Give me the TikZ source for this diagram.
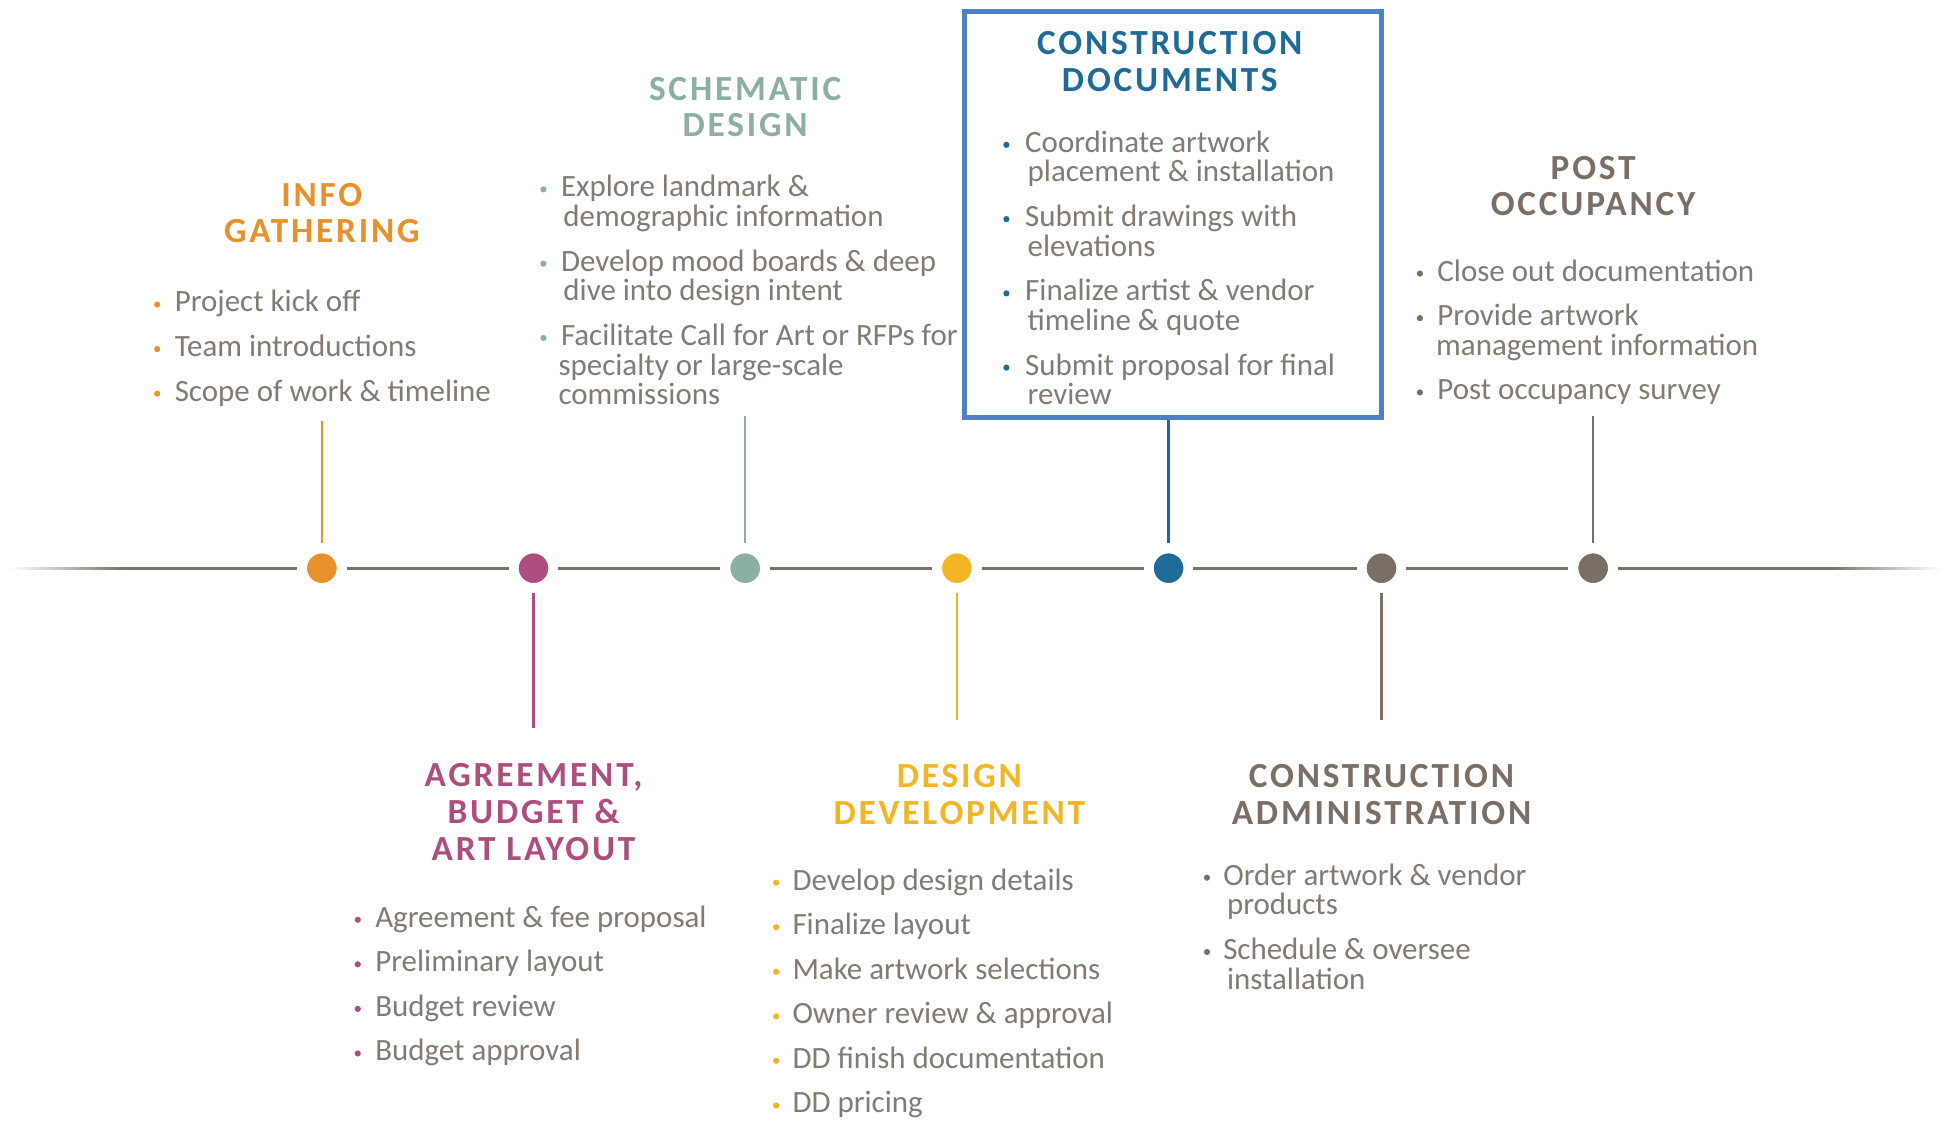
\documentclass[tikz,border=0pt]{standalone}
\usepackage{fontspec}
\setmainfont{Carlito}
\newfontfamily\headfont[LetterSpace=8]{Carlito}
\definecolor{cOr}{HTML}{E8912A}
\definecolor{cMg}{HTML}{AE4E7E}
\definecolor{cSg}{HTML}{8BAFA0}
\definecolor{cYe}{HTML}{F2B524}
\definecolor{cBl}{HTML}{1F6B98}
\definecolor{cGr}{HTML}{7A6E65}
\definecolor{cTx}{HTML}{837A73}
\definecolor{cBox}{HTML}{4F7FC4}
\definecolor{cLine}{HTML}{7A7068}
\tikzset{
  dotn/.style={circle, fill=#1, draw=white, line width=1pt, minimum size=25pt, inner sep=0pt},
  tl/.style={draw=cLine, line width=2.5pt},
  stem/.style={draw=#1, line width=2pt},
  txt/.style={anchor=base west, inner sep=0pt, text=cTx, font=\fontsize{25}{24}\selectfont},
  hd/.style={anchor=base, inner sep=0pt, text=#1, font=\headfont\bfseries\fontsize{28.5}{30}\selectfont},
  bul/.style={circle, fill=#1, inner sep=0pt, minimum size=5pt},
}
\begin{document}
\begin{tikzpicture}[x=1pt,y=-1pt]
\useasboundingbox[fill=white] (0,0) rectangle (1568,906);
% timeline dots
\node[dotn=cOr] (d1) at (260,459) {};
\node[dotn=cMg] (d2) at (431,459) {};
\node[dotn=cSg] (d3) at (602,459) {};
\node[dotn=cYe] (d4) at (773,459) {};
\node[dotn=cBl] (d5) at (944,459) {};
\node[dotn=cGr] (d6) at (1116,459) {};
\node[dotn=cGr] (d7) at (1287,459) {};
\coordinate (ls) at (100,459);
\coordinate (re) at (1480,459);
% faded ends
\foreach \i [evaluate=\i as \pc using {(\i+0.5)*100/23}, evaluate=\i as \xa using {8+4*\i}] in {0,...,22}
  {\draw[draw=cLine!\pc!white, line width=2.5pt] (\xa,459) -- ++(4.6,0);}
\foreach \i [evaluate=\i as \pc using {100-(\i+0.5)*100/22}, evaluate=\i as \xa using {1479.6+4*\i}] in {0,...,21}
  {\draw[draw=cLine!\pc!white, line width=2.5pt] (\xa,459) -- ++(4.6,0);}
\draw[tl, shorten >=7pt] (ls) -- (d1);
\draw[tl, shorten <=7pt, shorten >=7pt] (d1) -- (d2);
\draw[tl, shorten <=7pt, shorten >=7pt] (d2) -- (d3);
\draw[tl, shorten <=7pt, shorten >=7pt] (d3) -- (d4);
\draw[tl, shorten <=7pt, shorten >=7pt] (d4) -- (d5);
\draw[tl, shorten <=7pt, shorten >=7pt] (d5) -- (d6);
\draw[tl, shorten <=7pt, shorten >=7pt] (d6) -- (d7);
\draw[tl, shorten <=7pt] (d7) -- (re);
% stems
\coordinate (s1) at (260,340);
\coordinate (s2) at (431,588);
\coordinate (s3) at (602,336);
\coordinate (s4) at (773,582);
\coordinate (s6) at (1116,582);
\coordinate (s7) at (1287,336);
\draw[stem=cOr, shorten >=7pt] (s1) -- (d1);
\draw[stem=cMg, shorten >=7pt] (s2) -- (d2);
\draw[stem=cSg, shorten >=7pt] (s3) -- (d3);
\draw[stem=cYe, shorten >=7pt] (s4) -- (d4);
\draw[stem=cGr, shorten >=7pt] (s6) -- (d6);
\draw[stem=cGr, shorten >=7pt] (s7) -- (d7);
% construction documents box
\node[draw=cBox, line width=4pt, minimum width=337pt, minimum height=328pt, inner sep=0pt] (cdbox) at (947.5,173) {};
\draw[stem=cBl, shorten >=7pt] (cdbox.south -| d5) -- (d5);

% INFO GATHERING
\node[hd=cOr] (h1a) at (260,167) {INFO};
\node[hd=cOr] (h1b) at (260,196) {GATHERING};
\node[bul=cOr] (b1a) at (127,246) {};
\node[txt] (t1a) at (141,252) {Project kick off};
\node[bul=cOr] (b1b) at (127,282) {};
\node[txt] (t1b) at (141,288) {Team introductions};
\node[bul=cOr] (b1c) at (127,318) {};
\node[txt] (t1c) at (141,324) {Scope of work \& timeline};

% SCHEMATIC DESIGN
\node[hd=cSg] (h3a) at (602,81) {SCHEMATIC};
\node[hd=cSg] (h3b) at (602,110) {DESIGN};
\node[bul=cSg] (b3a) at (439,153) {};
\node[txt] (t3a) at (453,159) {Explore landmark \&};
\node[txt] (t3a2) at (455,183) {demographic information};
\node[bul=cSg] (b3b) at (439,213) {};
\node[txt] (t3b) at (453,219) {Develop mood boards \& deep};
\node[txt] (t3b2) at (455,243) {dive into design intent};
\node[bul=cSg] (b3c) at (439,273) {};
\node[txt] (t3c) at (453,279) {Facilitate Call for Art or RFPs for};
\node[txt] (t3c2) at (451,303) {specialty or large-scale};
\node[txt] (t3c3) at (451,327) {commissions};

% CONSTRUCTION DOCUMENTS
\node[hd=cBl] (h5a) at (945,44) {CONSTRUCTION};
\node[hd=cBl] (h5b) at (945,74) {DOCUMENTS};
\node[bul=cBl] (b5a) at (813,117) {};
\node[txt] (t5a) at (828,123) {Coordinate artwork};
\node[txt] (t5a2) at (830,147) {placement \& installation};
\node[bul=cBl] (b5b) at (813,177) {};
\node[txt] (t5b) at (828,183) {Submit drawings with};
\node[txt] (t5b2) at (830,207) {elevations};
\node[bul=cBl] (b5c) at (813,237) {};
\node[txt] (t5c) at (828,243) {Finalize artist \& vendor};
\node[txt] (t5c2) at (830,267) {timeline \& quote};
\node[bul=cBl] (b5d) at (813,297) {};
\node[txt] (t5d) at (828,303) {Submit proposal for final};
\node[txt] (t5d2) at (830,327) {review};

% POST OCCUPANCY
\node[hd=cGr] (h7a) at (1287,145) {POST};
\node[hd=cGr] (h7b) at (1287,174) {OCCUPANCY};
\node[bul=cGr] (b7a) at (1147,221) {};
\node[txt] (t7a) at (1161,227) {Close out documentation};
\node[bul=cGr] (b7b) at (1147,257) {};
\node[txt] (t7b) at (1161,263) {Provide artwork};
\node[txt] (t7b2) at (1160,287) {management information};
\node[bul=cGr] (b7c) at (1147,317) {};
\node[txt] (t7c) at (1161,323) {Post occupancy survey};

% AGREEMENT
\node[hd=cMg] (h2a) at (431,635) {AGREEMENT,};
\node[hd=cMg] (h2b) at (431,665) {BUDGET \&};
\node[hd=cMg] (h2c) at (431,695) {ART LAYOUT};
\node[bul=cMg] (b2a) at (289,743) {};
\node[txt] (t2a) at (303,749) {Agreement \& fee proposal};
\node[bul=cMg] (b2b) at (289,779) {};
\node[txt] (t2b) at (303,785) {Preliminary layout};
\node[bul=cMg] (b2c) at (289,815) {};
\node[txt] (t2c) at (303,821) {Budget review};
\node[bul=cMg] (b2d) at (289,851) {};
\node[txt] (t2d) at (303,857) {Budget approval};

% DESIGN DEVELOPMENT
\node[hd=cYe] (h4a) at (775,636) {DESIGN};
\node[hd=cYe] (h4b) at (775,666) {DEVELOPMENT};
\node[bul=cYe] (b4a) at (627,713) {};
\node[txt] (t4a) at (640,719) {Develop design details};
\node[bul=cYe] (b4b) at (627,749) {};
\node[txt] (t4b) at (640,755) {Finalize layout};
\node[bul=cYe] (b4c) at (627,785) {};
\node[txt] (t4c) at (640,791) {Make artwork selections};
\node[bul=cYe] (b4d) at (627,821) {};
\node[txt] (t4d) at (640,827) {Owner review \& approval};
\node[bul=cYe] (b4e) at (627,857) {};
\node[txt] (t4e) at (640,863) {DD finish documentation};
\node[bul=cYe] (b4f) at (627,893) {};
\node[txt] (t4f) at (640,899) {DD pricing};

% CONSTRUCTION ADMINISTRATION
\node[hd=cGr] (h6a) at (1116,636) {CONSTRUCTION};
\node[hd=cGr] (h6b) at (1116,666) {ADMINISTRATION};
\node[bul=cGr] (b6a) at (975,709) {};
\node[txt] (t6a) at (988,715) {Order artwork \& vendor};
\node[txt] (t6a2) at (991,739) {products};
\node[bul=cGr] (b6b) at (975,769) {};
\node[txt] (t6b) at (988,775) {Schedule \& oversee};
\node[txt] (t6b2) at (991,799) {installation};
\end{tikzpicture}
\end{document}
